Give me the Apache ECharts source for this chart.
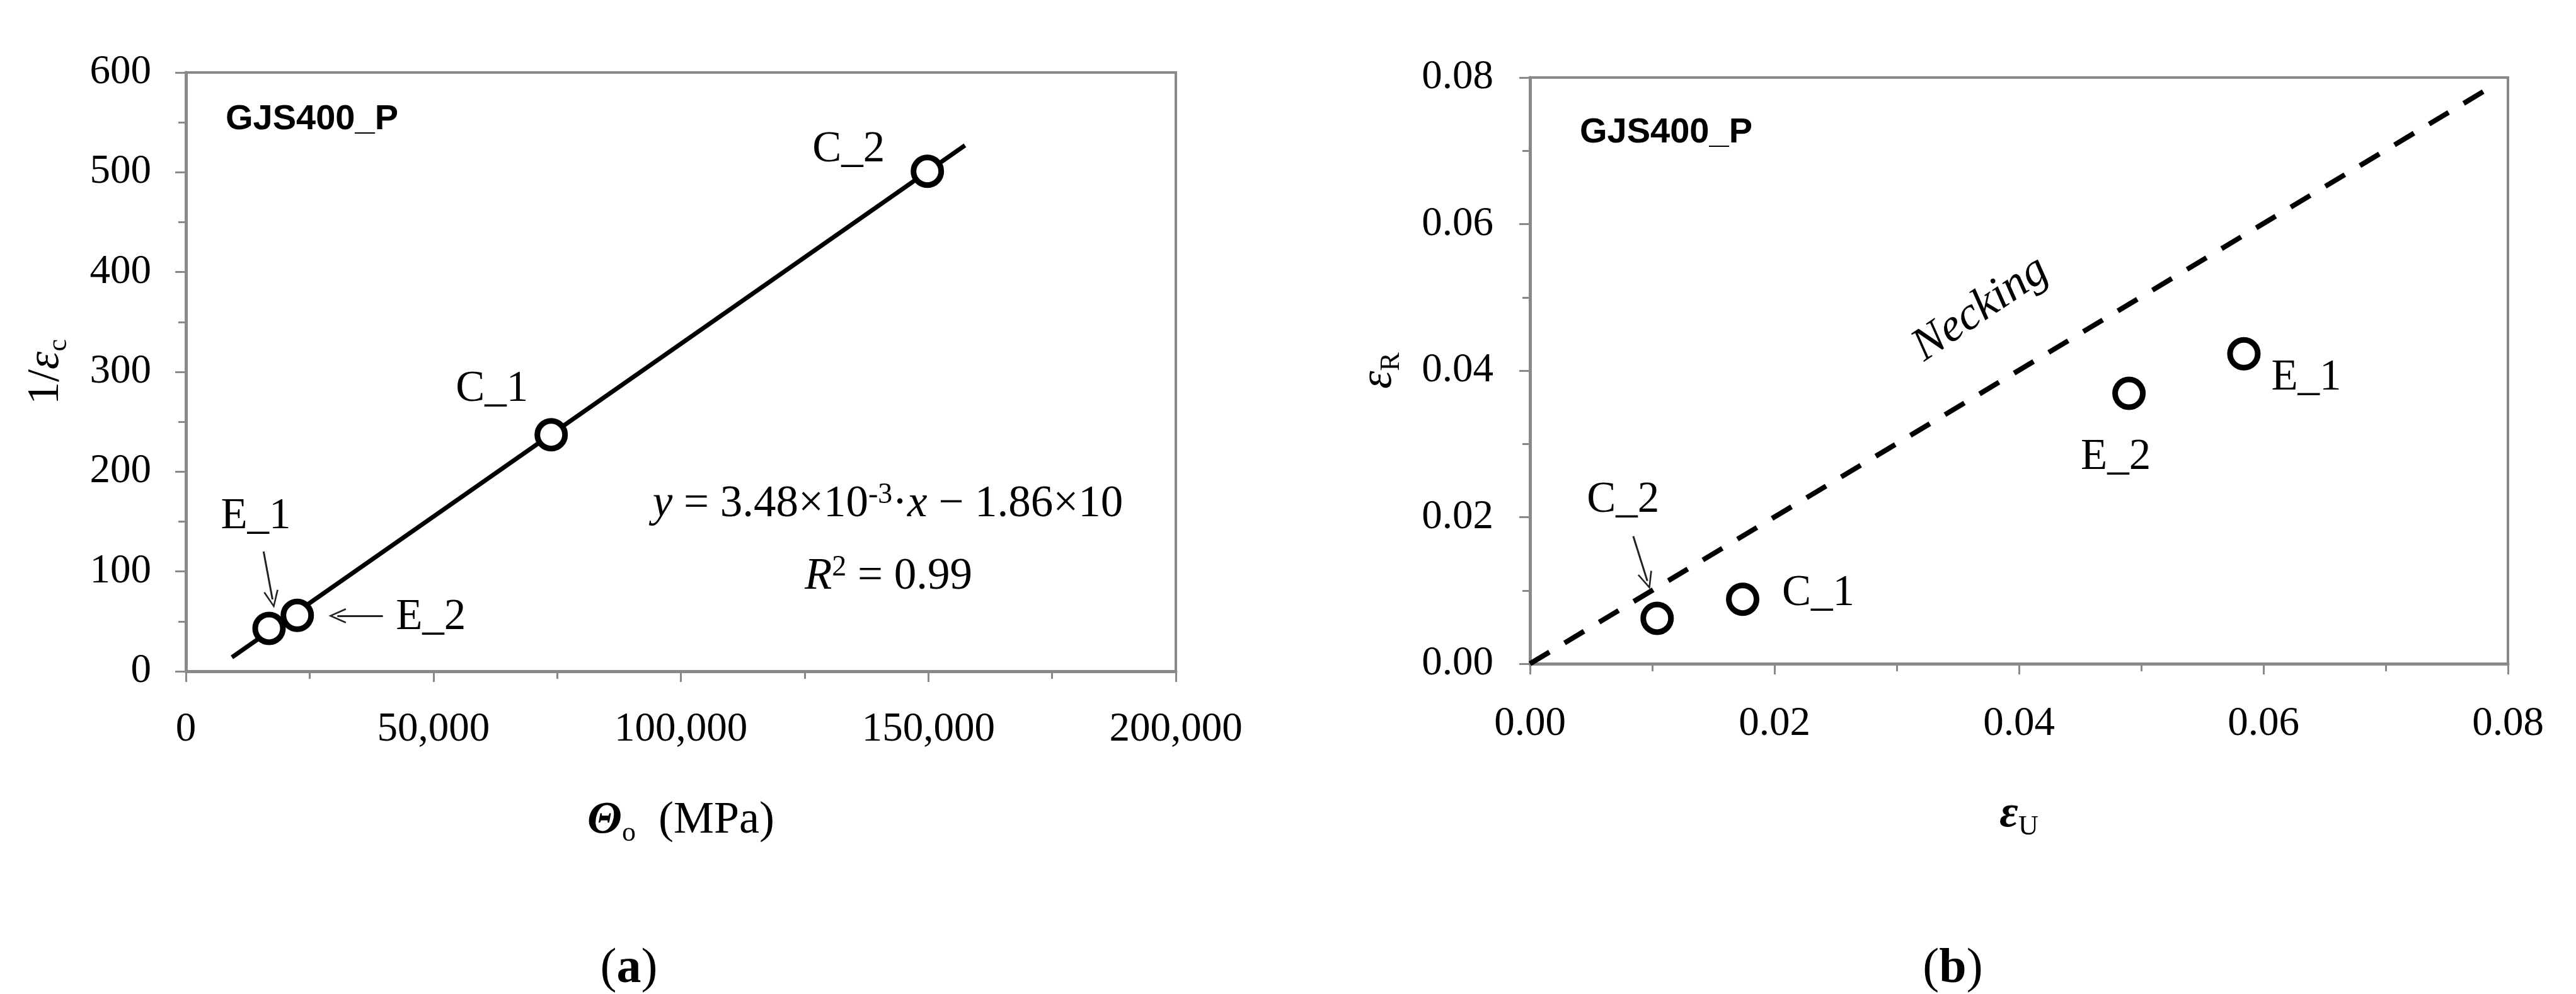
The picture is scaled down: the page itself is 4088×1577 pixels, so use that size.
<!DOCTYPE html>
<html>
<head>
<meta charset="utf-8">
<title>GJS400_P</title>
<script src="https://cdn.jsdelivr.net/npm/echarts@6/dist/echarts.min.js"></script>
<style>html, body { margin: 0; background: #fff; }</style>
</head>
<body>
<div id="main" style="width: 4088px; height: 1577px;"></div>
<script type="text/javascript">
// (a) 1/eps_c against theta_o
var namesA = ['E_1', 'E_2', 'C_1', 'C_2'];
var thetaO = [16800, 22500, 73800, 149800];
var invEpsC = [43, 56, 237, 501];
var fitX = [9300, 157400];
var fitY = [14, 527];

// (b) eps_R against eps_U
var namesB = ['C_2', 'C_1', 'E_2', 'E_1'];
var epsU = [0.0104, 0.0174, 0.0490, 0.0584];
var epsR = [0.0062, 0.0088, 0.0369, 0.0423];
var neckX = [0, 0.0787];
var neckY = [0, 0.0788];

// pointer arrows, [from, to] in data units
var arrowsA = [[[15700, 120], [17500, 72]], [[39800, 55.6], [30600, 55.6]]];
var arrowsB = [[[0.00845, 0.0174], [0.0096, 0.0113]]];

// where each point label sits, px from the marker centre
var offA = { E_1: [-21, -177], E_2: [212, 4], C_1: [-94, -72], C_2: [-125, -34] };
var offB = { C_2: [-54, -187], C_1: [120, -9], E_2: [-21, 102], E_1: [99, 39] };

var serif = "'Times New Roman', 'Liberation Serif', serif";
var gray = '#898989';
var arrowHead = 'path://M0,0 L-12,26 L-9.5,27 L0,6 L9.5,27 L12,26 Z';

var chartDom = document.getElementById('main');
var myChart = echarts.init(chartDom);

function pairs(xs, ys) {
  return xs.map(function (x, i) { return [x, ys[i]]; });
}
function points(names, xs, ys, offs) {
  return names.map(function (n, i) {
    return { name: n, value: [xs[i], ys[i]], label: { offset: offs[n] } };
  });
}
function arrowLines(list) {
  return list.map(function (a) {
    return [
      { coord: a[0], symbol: 'none' },
      { coord: a[1], symbol: arrowHead, symbolSize: [24, 28] }
    ];
  });
}
function commas(v) {
  return String(v).replace(/\B(?=(\d{3})+(?!\d))/g, ',');
}
function valueAxis(idx, min, max, step, fmt, margin) {
  return {
    type: 'value', gridIndex: idx, min: min, max: max, interval: step,
    axisLine: { show: true, onZero: false, lineStyle: { color: gray, width: 5 } },
    axisTick: { show: true, inside: false, length: 17, lineStyle: { color: gray, width: 3 } },
    minorTick: { show: true, splitNumber: 2, length: 12, lineStyle: { color: gray, width: 3 } },
    splitLine: { show: false },
    minorSplitLine: { show: false },
    axisLabel: { color: '#000', fontFamily: serif, fontSize: 65, margin: margin, formatter: fmt }
  };
}
function axisName(axis, text, gap, rich) {
  axis.name = text;
  axis.nameLocation = 'middle';
  axis.nameGap = gap;
  axis.nameTextStyle = { color: '#000', fontFamily: serif, fontSize: 72, lineHeight: 84, rich: rich };
  return axis;
}
var subStyle = { fontFamily: serif, fontSize: 44, lineHeight: 56, verticalAlign: 'bottom', color: '#000' };
var italic = { fontFamily: serif, fontSize: 72, lineHeight: 84, fontStyle: 'italic', color: '#000' };
var boldItalic = { fontFamily: serif, fontSize: 72, lineHeight: 84, fontStyle: 'italic', fontWeight: 'bold', color: '#000' };

var pointLabel = {
  show: true, position: 'inside', formatter: '{b}', color: '#000',
  fontFamily: serif, fontSize: 69, textBorderWidth: 0
};
var marker = { color: '#fff', borderColor: '#000', borderWidth: 9, opacity: 1 };
var arrowLine = {
  silent: true, animation: false, symbol: ['none', 'none'],
  label: { show: false }, emphasis: { disabled: true },
  lineStyle: { color: '#222', width: 3, type: 'solid' }
};

var option = {
  animation: false,
  backgroundColor: '#fff',
  grid: [
    { left: 295, top: 115, width: 1571, height: 950, show: true, borderColor: gray, borderWidth: 4, outerBoundsMode: 'none' },
    { left: 2428, top: 123, width: 1552, height: 930, show: true, borderColor: gray, borderWidth: 4, outerBoundsMode: 'none' }
  ],
  xAxis: [
    axisName(valueAxis(0, 0, 200000, 50000, commas, 60), '{th|Θ}{sub|o}  (MPa)', 195,
      { th: boldItalic, sub: subStyle }),
    axisName(valueAxis(1, 0, 0.08, 0.02, function (v) { return v.toFixed(2); }, 63), '{e|ε}{sub|U}', 197,
      { e: boldItalic, sub: subStyle })
  ],
  yAxis: [
    axisName(valueAxis(0, 0, 600, 100, null, 55), '1/{e|ε}{sub|c}', 180,
      { e: italic, sub: subStyle }),
    axisName(valueAxis(1, 0, 0.08, 0.02, function (v) { return v.toFixed(2); }, 58), '{e|ε}{sub|R}', 198,
      { e: italic, sub: subStyle })
  ],
  series: [
    {
      type: 'line', xAxisIndex: 0, yAxisIndex: 0, data: pairs(fitX, fitY),
      symbol: 'none', silent: true, lineStyle: { color: '#000', width: 7 }, z: 2
    },
    {
      type: 'scatter', xAxisIndex: 0, yAxisIndex: 0, data: points(namesA, thetaO, invEpsC, offA),
      symbol: 'circle', symbolSize: 44, itemStyle: marker, label: pointLabel,
      markLine: Object.assign({ data: arrowLines(arrowsA) }, arrowLine), z: 3
    },
    {
      type: 'line', xAxisIndex: 1, yAxisIndex: 1, data: pairs(neckX, neckY),
      symbol: 'none', silent: true, lineStyle: { color: '#000', width: 8, type: [36, 28] }, z: 2
    },
    {
      type: 'scatter', xAxisIndex: 1, yAxisIndex: 1, data: points(namesB, epsU, epsR, offB),
      symbol: 'circle', symbolSize: 44, itemStyle: marker, label: pointLabel,
      markLine: Object.assign({ data: arrowLines(arrowsB) }, arrowLine), z: 3
    }
  ],
  graphic: [
    { type: 'text', x: 358, y: 190, style: { text: 'GJS400_P', fontFamily: "'Liberation Sans', Arial, sans-serif", fontWeight: 'bold', fontSize: 56, fill: '#000', align: 'left', verticalAlign: 'middle' } },
    { type: 'text', x: 2507, y: 211, style: { text: 'GJS400_P', fontFamily: "'Liberation Sans', Arial, sans-serif", fontWeight: 'bold', fontSize: 56, fill: '#000', align: 'left', verticalAlign: 'middle' } },
    {
      type: 'text', x: 1409, y: 800,
      style: {
        text: '{i|y} = 3.48×10{sup|-3}·{i|x} − 1.86×10',
        fontFamily: serif, fontSize: 71, lineHeight: 74, fill: '#000', align: 'center', verticalAlign: 'middle',
        rich: {
          i: { fontFamily: serif, fontSize: 71, lineHeight: 74, fontStyle: 'italic', fill: '#000' },
          sup: { fontFamily: serif, fontSize: 46, lineHeight: 50, verticalAlign: 'top', fill: '#000' }
        }
      }
    },
    {
      type: 'text', x: 1410, y: 915,
      style: {
        text: '{i|R}{sup|2} = 0.99',
        fontFamily: serif, fontSize: 71, lineHeight: 74, fill: '#000', align: 'center', verticalAlign: 'middle',
        rich: {
          i: { fontFamily: serif, fontSize: 71, lineHeight: 74, fontStyle: 'italic', fill: '#000' },
          sup: { fontFamily: serif, fontSize: 46, lineHeight: 50, verticalAlign: 'top', fill: '#000' }
        }
      }
    },
    {
      type: 'text', x: 3143, y: 490, rotation: 34 * Math.PI / 180,
      style: { text: 'Necking', fontFamily: serif, fontStyle: 'italic', fontSize: 74, fill: '#000', align: 'center', verticalAlign: 'middle' }
    },
    {
      type: 'text', x: 998, y: 1538,
      style: {
        text: '({b|a})', fontFamily: serif, fontSize: 78, fill: '#000', align: 'center', verticalAlign: 'middle',
        rich: { b: { fontFamily: serif, fontSize: 78, fontWeight: 'bold', fill: '#000' } }
      }
    },
    {
      type: 'text', x: 3099, y: 1538,
      style: {
        text: '({b|b})', fontFamily: serif, fontSize: 78, fill: '#000', align: 'center', verticalAlign: 'middle',
        rich: { b: { fontFamily: serif, fontSize: 78, fontWeight: 'bold', fill: '#000' } }
      }
    }
  ]
};

option && myChart.setOption(option);
</script>
</body>
</html>
